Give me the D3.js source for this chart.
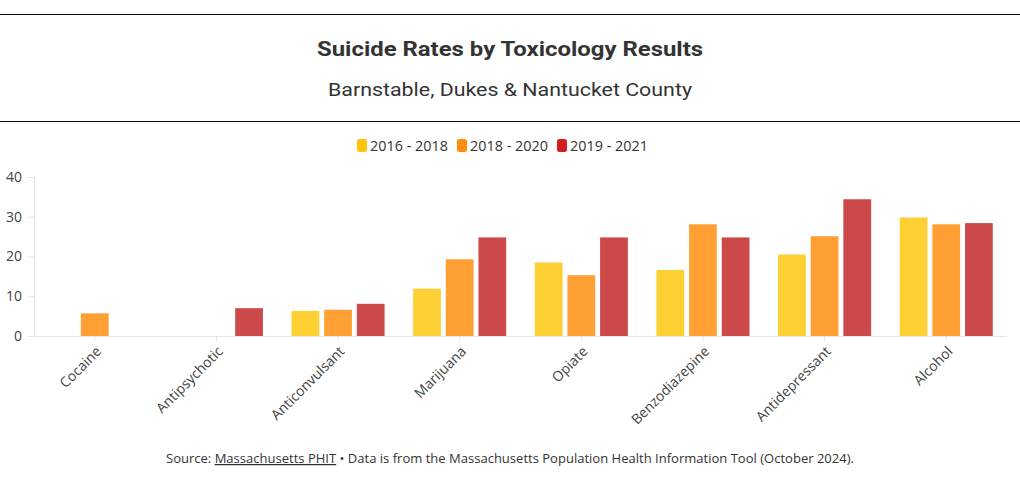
<!DOCTYPE html>
<html>
<head>
<meta charset="utf-8">
<script src="https://cdn.jsdelivr.net/npm/d3@7"></script>
<style>
  html, body { margin: 0; padding: 0; background: #fff; }
  svg { display: block; }
</style>
</head>
<body>
<svg id="chart" width="1020" height="481"></svg>
<script>
const categories = ["Cocaine", "Antipsychotic", "Anticonvulsant", "Marijuana", "Opiate", "Benzodiazepine", "Antidepressant", "Alcohol"];
const seriesNames = ["2016 - 2018", "2018 - 2020", "2019 - 2021"];
const values2016_2018 = [null, null, 6.3, 11.9, 18.5, 16.6, 20.5, 29.8];
const values2018_2020 = [5.7, null, 6.6, 19.3, 15.3, 28.1, 25.1, 28.1];
const values2019_2021 = [null, 7.0, 8.1, 24.8, 24.8, 24.8, 34.4, 28.4];
const yTicks = [0, 10, 20, 30, 40];

const barColors = ["#FFD034", "#FF9F34", "#CC4949"];
const legendColors = ["#FFC30A", "#FF8E0E", "#D21E1E"];
const seriesValues = [values2016_2018, values2018_2020, values2019_2021];

const svg = d3.select("#chart");
const W = 1020;
const font = "'Open Sans', 'Noto Sans', sans-serif";

// header rules
svg.append("line").attr("x1", 0).attr("x2", W).attr("y1", 14.5).attr("y2", 14.5).attr("stroke", "#111").attr("stroke-width", 1.2);
svg.append("line").attr("x1", 0).attr("x2", W).attr("y1", 121.5).attr("y2", 121.5).attr("stroke", "#111").attr("stroke-width", 1.2);

svg.append("text").attr("x", 510).attr("y", 56).attr("text-anchor", "middle")
  .attr("font-family", "'Roboto', 'Noto Sans', sans-serif").attr("font-weight", "bold").attr("font-size", 21)
  .attr("fill", "#333").attr("textLength", 386).attr("lengthAdjust", "spacingAndGlyphs")
  .text("Suicide Rates by Toxicology Results");
svg.append("text").attr("x", 510).attr("y", 96).attr("text-anchor", "middle")
  .attr("font-family", "'Roboto', 'Noto Sans', sans-serif").attr("font-size", 19)
  .attr("fill", "#333").attr("textLength", 364).attr("lengthAdjust", "spacingAndGlyphs")
  .text("Barnstable, Dukes & Nantucket County");

// legend
const legendX = [357, 457, 557];
const legend = svg.append("g");
seriesNames.forEach((name, i) => {
  legend.append("rect").attr("x", legendX[i]).attr("y", 139).attr("width", 10).attr("height", 13)
    .attr("rx", 2.5).attr("fill", legendColors[i]);
  legend.append("text").attr("x", legendX[i] + 13).attr("y", 151)
    .attr("font-family", font).attr("font-size", 14).attr("fill", "#333")
    .attr("textLength", 78).attr("lengthAdjust", "spacingAndGlyphs")
    .text(name);
});

// scales
const x0 = d3.scaleBand().domain(categories).range([34, 1007]).paddingInner(0.235).paddingOuter(0.117);
const x1 = d3.scaleBand().domain(d3.range(3)).range([0, x0.bandwidth()]).paddingInner(0.15);
const y = d3.scaleLinear().domain([0, 40]).range([336, 177]);

// y axis
const yAxis = svg.append("g").attr("transform", "translate(34,0)")
  .call(d3.axisLeft(y).tickValues(yTicks).tickSize(6).tickPadding(6));
yAxis.select(".domain").attr("stroke", "#e6e6e6").attr("d", "M0.5," + y(40) + "V" + y(0));
yAxis.selectAll(".tick line").attr("stroke", "#e6e6e6");
yAxis.selectAll(".tick text").attr("font-family", font).attr("font-size", 14).attr("fill", "#444");

// x axis
const xAxis = svg.append("g").attr("transform", "translate(0,336)")
  .call(d3.axisBottom(x0).tickSize(5).tickSizeOuter(0).tickPadding(4));
xAxis.select(".domain").attr("stroke", "#e6e6e6").attr("d", "M34,0.5H1007");
xAxis.selectAll(".tick line").attr("stroke", "#e0e0e0");
xAxis.selectAll(".tick text")
  .attr("font-family", font).attr("font-size", 14).attr("fill", "#444")
  .attr("text-anchor", "end")
  .attr("transform", "translate(-5,4) rotate(-45)")
  .attr("dy", "0.6em");

// bars
const groups = svg.append("g").selectAll("g").data(categories).join("g")
  .attr("transform", d => `translate(${x0(d)},0)`);
groups.selectAll("rect")
  .data((d, ci) => seriesValues.map((vals, si) => ({ si, v: vals[ci] })).filter(o => o.v != null))
  .join("rect")
  .attr("x", d => x1(d.si))
  .attr("width", x1.bandwidth())
  .attr("y", d => y(d.v))
  .attr("height", d => y(0) - y(d.v))
  .attr("fill", d => barColors[d.si]);

// footer
const foot = svg.append("text").attr("x", 510).attr("y", 463).attr("text-anchor", "middle")
  .attr("font-family", font).attr("font-size", 12.5).attr("fill", "#333")
  .attr("textLength", 688).attr("lengthAdjust", "spacingAndGlyphs");
foot.append("tspan").text("Source: ");
foot.append("tspan").attr("text-decoration", "underline").text("Massachusetts PHIT");
foot.append("tspan").text(" \u2022 Data is from the Massachusetts Population Health Information Tool (October 2024).");
</script>
</body>
</html>
